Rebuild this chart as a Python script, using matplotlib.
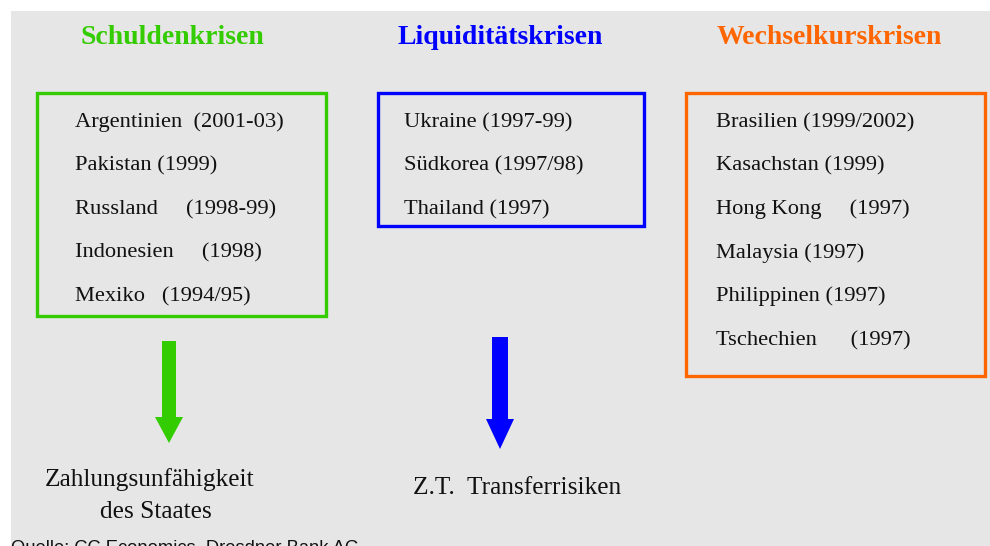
import matplotlib
matplotlib.use("Agg")
import matplotlib.pyplot as plt
from matplotlib.patches import Rectangle, FancyArrow

# ---- data ----
titles = ["Schuldenkrisen", "Liquiditätskrisen", "Wechselkurskrisen"]
colors = ["#33cc00", "#0000ff", "#ff6600"]
debt_items = ["Argentinien  (2001-03)", "Pakistan (1999)", "Russland     (1998-99)",
              "Indonesien     (1998)", "Mexiko   (1994/95)"]
liquidity_items = ["Ukraine (1997-99)", "Südkorea (1997/98)", "Thailand (1997)"]
fx_items = ["Brasilien (1999/2002)", "Kasachstan (1999)", "Hong Kong     (1997)",
            "Malaysia (1997)", "Philippinen (1997)", "Tschechien      (1997)"]
outcomes = ["Zahlungsunfähigkeit", "des Staates", "Z.T.  Transferrisiken"]
source = "Quelle: CC Economics, Dresdner Bank AG"

# ---- layout ----
W, H = 990, 546
fig = plt.figure(figsize=(W / 100, H / 100), dpi=100)
ax = fig.add_axes([0, 0, 1, 1])
ax.set_xlim(0, W)
ax.set_ylim(H, 0)
ax.axis("off")

ax.add_patch(Rectangle((11, 11), W - 11, H - 11, facecolor="#e6e6e6", edgecolor="none", zorder=0))

serif = ["Liberation Serif", "DejaVu Serif"]
title_x = [172, 500, 829]
for t, c, x in zip(titles, colors, title_x):
    ax.text(x, 44.5, t, color=c, fontsize=20, fontweight="bold", family=serif,
            ha="center", va="baseline")

boxes = [(37, 93, 326, 316), (378, 93, 644, 226), (686, 93, 985, 376)]
lists = [debt_items, liquidity_items, fx_items]
text_x = [75, 404, 716]
row_y0, row_dy = 127, 43.6
for (x0, y0, x1, y1), c, items, tx in zip(boxes, colors, lists, text_x):
    ax.add_patch(Rectangle((x0, y0), x1 - x0, y1 - y0, facecolor="none",
                           edgecolor=c, linewidth=2.4, zorder=2))
    for i, s in enumerate(items):
        ax.text(tx, row_y0 + i * row_dy, s, fontsize=16.2, family=serif,
                color="#111111", ha="left", va="baseline")

# arrows (shaft centre x, top y, tip y, shaft width, head width, head length)
arrows = [(169, 341, 443, 14, 28, 26, colors[0]), (500, 337, 449, 16, 28, 30, colors[1])]
for cx, top, tip, sw, hw, hl, c in arrows:
    ax.add_patch(FancyArrow(cx, top, 0, tip - top, width=sw, head_width=hw,
                            head_length=hl, length_includes_head=True,
                            facecolor=c, edgecolor="none", zorder=3))

outcome_pos = [(150, 480), (156, 512), (517, 488)]
for s, (x, y) in zip(outcomes, outcome_pos):
    ax.text(x, y, s, fontsize=18.3, family=serif, ha="center", va="center", color="#111111")

ax.text(11, 553, source, fontsize=13.2, family=["Liberation Sans", "DejaVu Sans"],
        ha="left", va="baseline", color="#111111")

fig.savefig("out.png", dpi=100)
